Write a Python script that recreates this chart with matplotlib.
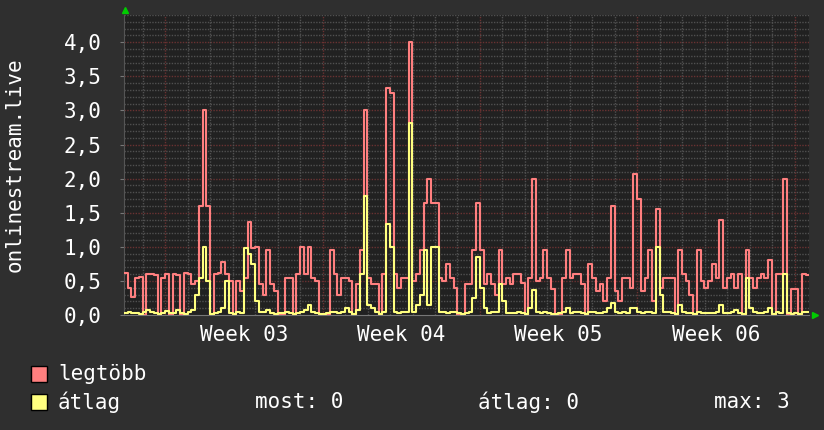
import matplotlib
matplotlib.use("Agg")
import matplotlib.pyplot as plt
from matplotlib.patches import Rectangle
import numpy as np

# samples every 4 hours, t in days from the left edge of the graph
SAMPLES_PER_DAY = 6
legtobb = [
    0.62, 0.40, 0.27, 0.55, 0.56, 0.00, 0.60, 0.60, 0.58, 0.00,
    0.55, 0.60, 0.00, 0.60, 0.58, 0.00, 0.62, 0.60, 0.45, 0.50,
    1.60, 3.00, 1.60, 0.00, 0.60, 0.62, 0.78, 0.60, 0.50, 0.00,
    0.50, 0.35, 0.55, 1.37, 0.98, 1.00, 0.45, 0.30, 0.95, 0.45,
    0.35, 0.00, 0.00, 0.55, 0.55, 0.00, 0.60, 1.00, 0.60, 1.00,
    0.55, 0.50, 0.00, 0.00, 0.00, 0.95, 0.60, 0.30, 0.55, 0.55,
    0.50, 0.00, 0.45, 0.95, 3.00, 0.55, 0.45, 0.45, 0.00, 0.60,
    3.33, 3.25, 0.60, 0.40, 0.55, 0.55, 4.00, 0.50, 0.60, 0.95,
    1.64, 2.00, 1.65, 1.65, 0.55, 0.50, 0.75, 0.55, 0.40, 0.00,
    0.00, 0.45, 0.45, 0.95, 1.64, 0.95, 0.45, 0.60, 0.45, 0.30,
    0.95, 0.45, 0.55, 0.45, 0.60, 0.60, 0.47, 0.00, 0.55, 2.00,
    0.50, 0.55, 0.95, 0.55, 0.38, 0.00, 0.00, 0.55, 0.95, 0.55,
    0.60, 0.60, 0.45, 0.00, 0.75, 0.55, 0.35, 0.45, 0.20, 0.55,
    1.60, 0.35, 0.20, 0.55, 0.55, 0.40, 2.07, 1.70, 0.35, 0.55,
    0.95, 0.20, 1.55, 0.40, 0.55, 0.55, 0.55, 0.00, 0.95, 0.60,
    0.50, 0.30, 0.00, 0.95, 0.50, 0.40, 0.50, 0.75, 0.55, 1.40,
    0.40, 0.55, 0.60, 0.40, 0.60, 0.00, 0.95, 0.55, 0.40, 0.55,
    0.60, 0.55, 0.80, 0.00, 0.60, 0.60, 2.00, 0.00, 0.38, 0.38,
    0.00, 0.60, 0.58,
]
atlag = [
    0.03, 0.05, 0.03, 0.03, 0.02, 0.05, 0.08, 0.05, 0.03, 0.02,
    0.03, 0.06, 0.03, 0.03, 0.07, 0.03, 0.02, 0.05, 0.07, 0.30,
    0.55, 1.00, 0.50, 0.02, 0.03, 0.05, 0.10, 0.50, 0.03, 0.02,
    0.05, 0.03, 0.98, 0.90, 0.75, 0.20, 0.05, 0.05, 0.08, 0.03,
    0.02, 0.03, 0.03, 0.05, 0.03, 0.02, 0.03, 0.05, 0.08, 0.15,
    0.05, 0.03, 0.02, 0.02, 0.03, 0.05, 0.05, 0.03, 0.05, 0.10,
    0.04, 0.02, 0.07, 0.60, 1.75, 0.15, 0.10, 0.05, 0.02, 0.05,
    1.33, 1.00, 0.05, 0.03, 0.05, 0.05, 2.82, 0.05, 0.15, 0.30,
    0.95, 0.15, 1.00, 1.00, 0.05, 0.05, 0.03, 0.05, 0.05, 0.03,
    0.02, 0.03, 0.05, 0.25, 0.85, 0.40, 0.10, 0.03, 0.05, 0.05,
    0.45, 0.20, 0.03, 0.03, 0.03, 0.05, 0.03, 0.02, 0.10, 0.37,
    0.05, 0.03, 0.04, 0.03, 0.02, 0.02, 0.03, 0.05, 0.10, 0.03,
    0.05, 0.04, 0.03, 0.02, 0.05, 0.05, 0.03, 0.03, 0.05, 0.10,
    0.17, 0.04, 0.03, 0.05, 0.03, 0.10, 0.10, 0.04, 0.03, 0.05,
    0.05, 0.03, 1.00, 0.30, 0.05, 0.05, 0.03, 0.02, 0.15, 0.05,
    0.03, 0.03, 0.02, 0.05, 0.03, 0.03, 0.03, 0.03, 0.05, 0.15,
    0.03, 0.03, 0.05, 0.08, 0.03, 0.02, 0.55, 0.10, 0.05, 0.03,
    0.03, 0.05, 0.10, 0.02, 0.05, 0.03, 0.60, 0.03, 0.02, 0.03,
    0.02, 0.05, 0.05,
]
week_labels = ["Week 03", "Week 04", "Week 05", "Week 06"]
first_monday = 1.84  # days after graph start
legend_stats = [("most: 0", 255), ("átlag: 0", 478), ("max: 3", 714)]

BG = "#2f2f2f"
CANVAS = "#212121"
PINK = "#ff7f7f"
YELLOW = "#ffff7f"
MINOR = "#505050"
MAJOR = "#6a3232"
FONT = "DejaVu Sans Mono"
FS = 15

W, H = 824, 430
fig = plt.figure(figsize=(W / 100, H / 100), dpi=100, facecolor=BG)
ax = fig.add_axes([124 / W, 1 - 315 / H, 685 / W, 300 / H], facecolor=CANVAS)

t_end = 685 / 22.47
ax.set_xlim(0, t_end)
ax.set_ylim(0, 4.4)

# grid: 0.1 minor / 0.5 major, daily minor / weekly major
for y in np.arange(0.1, 4.4, 0.1):
    major = abs(y * 2 - round(y * 2)) < 1e-6
    ax.axhline(y, color=MAJOR if major else MINOR, lw=1, ls=(0, (1, 1)), zorder=1)
for d in np.arange(first_monday - 1, t_end, 1.0):
    r = (d - first_monday) % 7
    major = r < 1e-6 or abs(r - 7) < 1e-6
    ax.axvline(d, color=MAJOR if major else MINOR, lw=1, ls=(0, (1, 1)), zorder=1)

n = len(legtobb)
t = np.arange(n + 1) / SAMPLES_PER_DAY
ax.step(t, legtobb + [legtobb[-1]], where="post", color=PINK, lw=1.5, zorder=3)
ax.step(t, atlag + [atlag[-1]], where="post", color=YELLOW, lw=1.5, zorder=4)

for s in ["top", "right"]:
    ax.spines[s].set_visible(False)
ax.spines["left"].set_color("#555555")
ax.spines["bottom"].set_color("#777777")

ax.set_yticks(np.arange(0, 4.01, 0.5))
ax.set_yticklabels([f"{v:.1f}".replace(".", ",") for v in np.arange(0, 4.01, 0.5)])
ax.set_xticks([first_monday + 3.5 + 7 * i for i in range(len(week_labels))])
ax.set_xticklabels(week_labels)
ax.tick_params(axis="y", length=3, color="#777777", pad=13, labelsize=FS, labelcolor="white")
ax.tick_params(axis="x", length=0, pad=7, labelsize=FS, labelcolor="white")
for lab in ax.get_xticklabels() + ax.get_yticklabels():
    lab.set_family(FONT)

fig.text(15 / W, 1 - 165 / H, "onlinestream.live", rotation=90, ha="center", va="center",
         color="white", fontsize=FS, family=FONT)

# green arrows at the axis ends
fig.add_artist(plt.Line2D([125 / W], [1 - 10 / H], marker="^", color="#00cc00", ms=5,
                          transform=fig.transFigure))
fig.add_artist(plt.Line2D([815 / W], [1 - 315 / H], marker=">", color="#00cc00", ms=5,
                          transform=fig.transFigure))

# legend
for (label, color, ytop) in [("legtöbb", PINK, 366), ("átlag", YELLOW, 394)]:
    fig.patches.append(Rectangle((31 / W, 1 - (ytop + 16) / H), 16 / W, 16 / H,
                                 transform=fig.transFigure, facecolor=color,
                                 edgecolor="black", lw=1))
    fig.text(58 / W, 1 - (ytop + 8) / H, label, ha="left", va="center",
             color="white", fontsize=FS, family=FONT)
for label, x in legend_stats:
    fig.text(x / W, 1 - 402 / H, label, ha="left", va="center",
             color="white", fontsize=FS, family=FONT)

fig.savefig("out.png", dpi=100, facecolor=BG)
